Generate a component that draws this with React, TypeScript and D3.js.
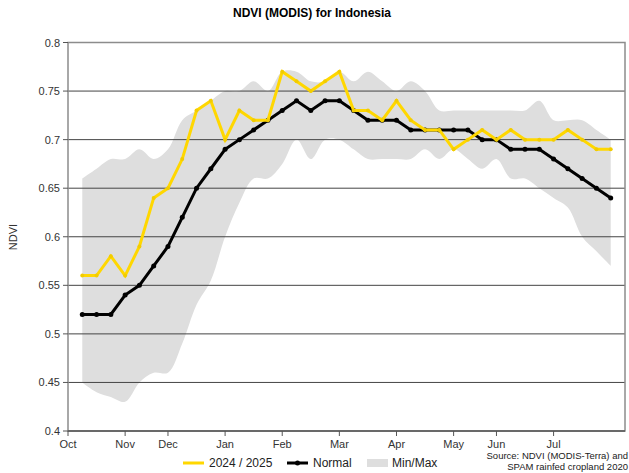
import * as d3 from "d3";
import React, { useRef, useEffect } from "react";

// 8-day periods, Oct 2024 -> end of Jul 2025 (index 0..37)
const current = [
  0.56, 0.56, 0.58, 0.56, 0.59, 0.64, 0.65, 0.68, 0.73, 0.74, 0.7, 0.73, 0.72,
  0.72, 0.77, 0.76, 0.75, 0.76, 0.77, 0.73, 0.73, 0.72, 0.74, 0.72, 0.71, 0.71,
  0.69, 0.7, 0.71, 0.7, 0.71, 0.7, 0.7, 0.7, 0.71, 0.7, 0.69, 0.69,
];
const normal = [
  0.52, 0.52, 0.52, 0.54, 0.55, 0.57, 0.59, 0.62, 0.65, 0.67, 0.69, 0.7, 0.71,
  0.72, 0.73, 0.74, 0.73, 0.74, 0.74, 0.73, 0.72, 0.72, 0.72, 0.71, 0.71, 0.71,
  0.71, 0.71, 0.7, 0.7, 0.69, 0.69, 0.69, 0.68, 0.67, 0.66, 0.65, 0.64,
];
const maxVals = [
  0.66, 0.67, 0.68, 0.68, 0.69, 0.68, 0.69, 0.72, 0.73, 0.74, 0.75, 0.75, 0.76,
  0.75, 0.77, 0.77, 0.76, 0.76, 0.77, 0.76, 0.77, 0.76, 0.75, 0.76, 0.75, 0.73,
  0.73, 0.73, 0.73, 0.73, 0.73, 0.73, 0.74, 0.72, 0.72, 0.72, 0.71, 0.7,
];
const minVals = [
  0.45, 0.44, 0.435, 0.43, 0.45, 0.46, 0.46, 0.49, 0.53, 0.555, 0.6, 0.635,
  0.66, 0.66, 0.675, 0.7, 0.68, 0.7, 0.7, 0.69, 0.68, 0.68, 0.68, 0.68, 0.69,
  0.68, 0.69, 0.68, 0.67, 0.68, 0.66, 0.66, 0.65, 0.64, 0.63, 0.6, 0.585, 0.57,
];
const monthLabels = ["Oct", "Nov", "Dec", "Jan", "Feb", "Mar", "Apr", "May", "Jun", "Jul"];
const monthStart = [-1, 3, 6, 10, 14, 18, 22, 26, 29, 33];
const yTicks = [0.4, 0.45, 0.5, 0.55, 0.6, 0.65, 0.7, 0.75, 0.8];

const W = 629;
const H = 473;
const left = 68;
const right = 625;
const top = 42.5;
const bottom = 431;
const font = "Arial, 'Liberation Sans', sans-serif";

export default function App() {
  const ref = useRef<SVGSVGElement>(null);

  useEffect(() => {
    const svg = d3.select(ref.current);
    svg.selectAll("*").remove();

    const x = d3.scaleLinear().domain([-1, 38]).range([left, right]);
    const y = d3.scaleLinear().domain([0.4, 0.8]).range([bottom, top]);

    // title
    svg
      .append("text")
      .attr("x", 312)
      .attr("y", 17)
      .attr("text-anchor", "middle")
      .attr("font-family", font)
      .attr("font-size", "12px")
      .attr("font-weight", "bold")
      .text("NDVI (MODIS) for Indonesia");

    // min/max band
    const band = d3
      .area<number>()
      .x((d, i) => x(i))
      .y0((d, i) => y(minVals[i]))
      .y1(d => y(d))
      .curve(d3.curveCatmullRom);
    svg.append("path").datum(maxVals).attr("d", band).attr("fill", "#dedede");

    // gridlines
    svg
      .selectAll(".grid")
      .data(yTicks.slice(1, -1))
      .enter()
      .append("line")
      .attr("x1", left)
      .attr("x2", right)
      .attr("y1", d => y(d))
      .attr("y2", d => y(d))
      .attr("stroke", "#444")
      .attr("stroke-width", 1);

    // frame
    svg
      .append("rect")
      .attr("x", left)
      .attr("y", top)
      .attr("width", right - left)
      .attr("height", bottom - top)
      .attr("fill", "none")
      .attr("stroke", "#8c8c8c")
      .attr("stroke-width", 1.5);
    svg
      .append("line")
      .attr("x1", left)
      .attr("x2", right)
      .attr("y1", bottom)
      .attr("y2", bottom)
      .attr("stroke", "#555")
      .attr("stroke-width", 1.5);

    // y axis ticks + labels
    const yAxis = svg.append("g");
    yTicks.forEach(t => {
      yAxis
        .append("line")
        .attr("x1", left - 5)
        .attr("x2", left)
        .attr("y1", y(t))
        .attr("y2", y(t))
        .attr("stroke", "#555");
      yAxis
        .append("text")
        .attr("x", left - 8)
        .attr("y", y(t) + 4)
        .attr("text-anchor", "end")
        .attr("font-family", font)
        .attr("font-size", "11px")
        .attr("fill", "#333")
        .text(d3.format("")(+t.toFixed(2)));
    });

    svg
      .append("text")
      .attr("transform", "translate(17," + 237 + ") rotate(-90)")
      .attr("text-anchor", "middle")
      .attr("font-family", font)
      .attr("font-size", "11px")
      .attr("fill", "#333")
      .text("NDVI");

    // x axis ticks + labels
    const xAxis = svg.append("g");
    monthStart.forEach((m, i) => {
      xAxis
        .append("line")
        .attr("x1", x(m))
        .attr("x2", x(m))
        .attr("y1", bottom)
        .attr("y2", bottom + 5)
        .attr("stroke", "#555");
      xAxis
        .append("text")
        .attr("x", x(m))
        .attr("y", bottom + 17)
        .attr("text-anchor", "middle")
        .attr("font-family", font)
        .attr("font-size", "11px")
        .attr("fill", "#333")
        .text(monthLabels[i]);
    });

    const line = d3
      .line<number>()
      .x((d, i) => x(i))
      .y(d => y(d));

    // normal
    svg
      .append("path")
      .datum(normal)
      .attr("d", line)
      .attr("fill", "none")
      .attr("stroke", "#000")
      .attr("stroke-width", 3);
    svg
      .selectAll(".ndot")
      .data(normal)
      .enter()
      .append("circle")
      .attr("cx", (d, i) => x(i))
      .attr("cy", d => y(d))
      .attr("r", 2.5)
      .attr("fill", "#000");

    // current season
    svg
      .append("path")
      .datum(current)
      .attr("d", line)
      .attr("fill", "none")
      .attr("stroke", "#ffd700")
      .attr("stroke-width", 3);
    svg
      .selectAll(".cdot")
      .data(current)
      .enter()
      .append("circle")
      .attr("cx", (d, i) => x(i))
      .attr("cy", d => y(d))
      .attr("r", 2)
      .attr("fill", "#f2cc00");

    // legend
    const lg = svg.append("g").attr("font-family", font).attr("font-size", "12px").attr("fill", "#222");
    lg.append("line").attr("x1", 183).attr("x2", 204).attr("y1", 463).attr("y2", 463).attr("stroke", "#ffd700").attr("stroke-width", 3);
    lg.append("text").attr("x", 209).attr("y", 467).text("2024 / 2025");
    lg.append("line").attr("x1", 287).attr("x2", 308).attr("y1", 463).attr("y2", 463).attr("stroke", "#000").attr("stroke-width", 3);
    lg.append("circle").attr("cx", 297.5).attr("cy", 463).attr("r", 2.5).attr("fill", "#000");
    lg.append("text").attr("x", 313).attr("y", 467).text("Normal");
    lg.append("rect").attr("x", 367).attr("y", 459).attr("width", 21).attr("height", 8).attr("fill", "#dedede");
    lg.append("text").attr("x", 392).attr("y", 467).text("Min/Max");

    // source
    const src = svg.append("g").attr("font-family", font).attr("font-size", "9.5px").attr("fill", "#222").attr("text-anchor", "end");
    src.append("text").attr("x", 628).attr("y", 459).text("Source: NDVI (MODIS-Terra) and");
    src.append("text").attr("x", 628).attr("y", 470).text("SPAM rainfed cropland 2020");
  }, []);

  return (
    <div>
      <svg
        ref={ref}
        width={W}
        height={H}
        style={{ position: "absolute", left: 0, top: 0, background: "#fff" }}
      ></svg>
    </div>
  );
}
